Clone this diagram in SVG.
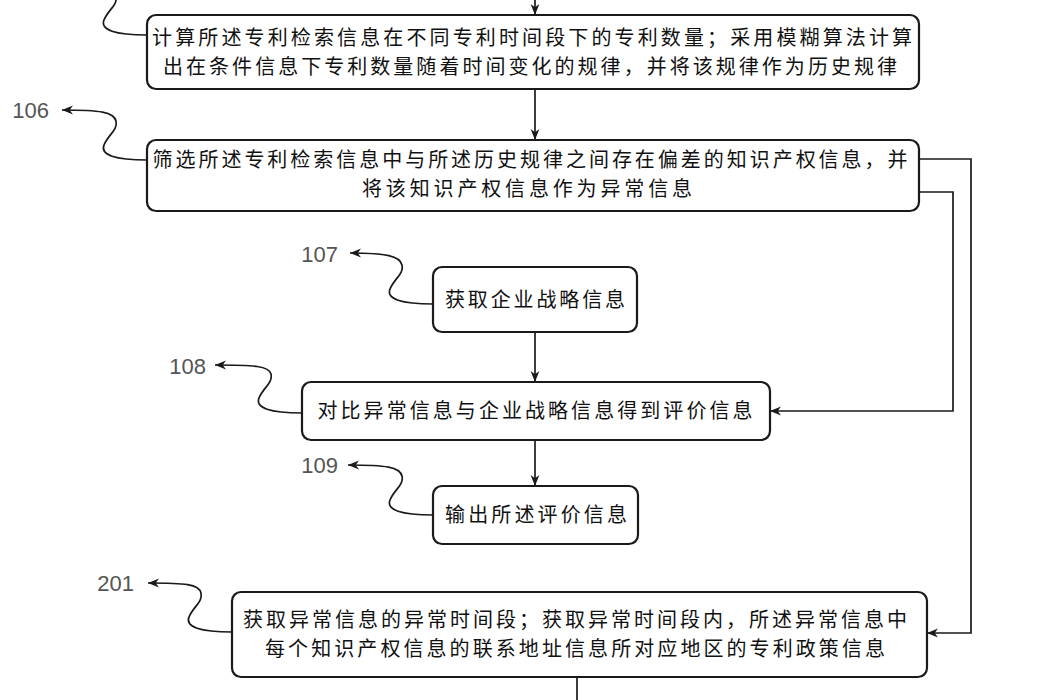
<svg xmlns="http://www.w3.org/2000/svg" width="1050" height="700" viewBox="0 0 1050 700">
<style>
.box{fill:#fff;stroke:#1a1a1a;stroke-width:2.2}
.t{font-family:"Noto Sans CJK SC","Noto Sans",sans-serif;font-size:20px;fill:#111;text-anchor:middle}
.lbl{font-family:"Liberation Sans",Arial,sans-serif;font-size:22px;fill:#555;text-anchor:end}
.c{fill:none;stroke:#1a1a1a;stroke-width:1.7}
</style>
<defs>
<marker id="arr" viewBox="0 0 10 10" refX="10" refY="5" markerWidth="11" markerHeight="11" orient="auto" markerUnits="userSpaceOnUse">
<path d="M0,1 L10,5 L0,9 L3,5 Z" fill="#1a1a1a"/>
</marker>
</defs>
<rect width="1050" height="700" fill="#fff"/>
<g id="connectors">
<path class="c" d="M535,0 V15" marker-end="url(#arr)"/>
<path class="c" d="M535,89 V140" marker-end="url(#arr)"/>
<path class="c" d="M535,332 V382" marker-end="url(#arr)"/>
<path class="c" d="M535,440 V486" marker-end="url(#arr)"/>
<path class="c" d="M577,677 V700"/>
<path class="c" d="M919,192 H953 V411 H770" marker-end="url(#arr)"/>
<path class="c" d="M919,159 H971 V633 H927" marker-end="url(#arr)"/>
<path class="c" d="M147,35 C115,35 100,30 104,20 C108,10 118,5 116,-4 C114,-13 100,-15 62,-15" marker-end="url(#arr)"/>
<path class="c" d="M147,160 C115,160 100,155 104,145 C108,135 118,130 116,121 C114,112 100,110 62,110" marker-end="url(#arr)"/>
<path class="c" d="M433,304 C401,304 386,299 390,289 C394,279 404,274 402,265 C400,256 386,253 350,253" marker-end="url(#arr)"/>
<path class="c" d="M302,413 C270,413 255,408 259,398 C263,388 273,383 271,374 C269,366 255,365 215,365" marker-end="url(#arr)"/>
<path class="c" d="M433,515 C401,515 386,510 390,500 C394,490 404,485 402,476 C400,467 386,465 348,465" marker-end="url(#arr)"/>
<path class="c" d="M232,632 C200,632 185,627 189,617 C193,607 203,602 201,593 C199,584 185,583 148,583" marker-end="url(#arr)"/>
</g>
<g id="labels">
<text class="lbl" x="49" y="118">106</text>
<text class="lbl" x="338" y="262">107</text>
<text class="lbl" x="206" y="374">108</text>
<text class="lbl" x="338" y="473">109</text>
<text class="lbl" x="134" y="591">201</text>
</g>
<g id="node105">
<rect class="box" x="147" y="15" width="772" height="74" rx="9"/>
<text class="t" x="532" y="45" textLength="760" lengthAdjust="spacing">计算所述专利检索信息在不同专利时间段下的专利数量；采用模糊算法计算</text>
<text class="t" x="530" y="74" textLength="734" lengthAdjust="spacing">出在条件信息下专利数量随着时间变化的规律，并将该规律作为历史规律</text>
</g>
<g id="node106">
<rect class="box" x="147" y="140" width="772" height="71" rx="9"/>
<text class="t" x="530" y="167" textLength="755" lengthAdjust="spacing">筛选所述专利检索信息中与所述历史规律之间存在偏差的知识产权信息，并</text>
<text class="t" x="527" y="196" textLength="330" lengthAdjust="spacing">将该知识产权信息作为异常信息</text>
</g>
<g id="node107">
<rect class="box" x="433" y="267" width="204" height="65" rx="9"/>
<text class="t" x="535" y="307" textLength="180" lengthAdjust="spacing">获取企业战略信息</text>
</g>
<g id="node108">
<rect class="box" x="302" y="382" width="468" height="58" rx="9"/>
<text class="t" x="535" y="418" textLength="435" lengthAdjust="spacing">对比异常信息与企业战略信息得到评价信息</text>
</g>
<g id="node109">
<rect class="box" x="433" y="486" width="205" height="58" rx="9"/>
<text class="t" x="536" y="522" textLength="182" lengthAdjust="spacing">输出所述评价信息</text>
</g>
<g id="node201">
<rect class="box" x="232" y="592" width="695" height="85" rx="9"/>
<text class="t" x="575" y="627" textLength="664" lengthAdjust="spacing">获取异常信息的异常时间段；获取异常时间段内，所述异常信息中</text>
<text class="t" x="575" y="656" textLength="620" lengthAdjust="spacing">每个知识产权信息的联系地址信息所对应地区的专利政策信息</text>
</g>
</svg>
